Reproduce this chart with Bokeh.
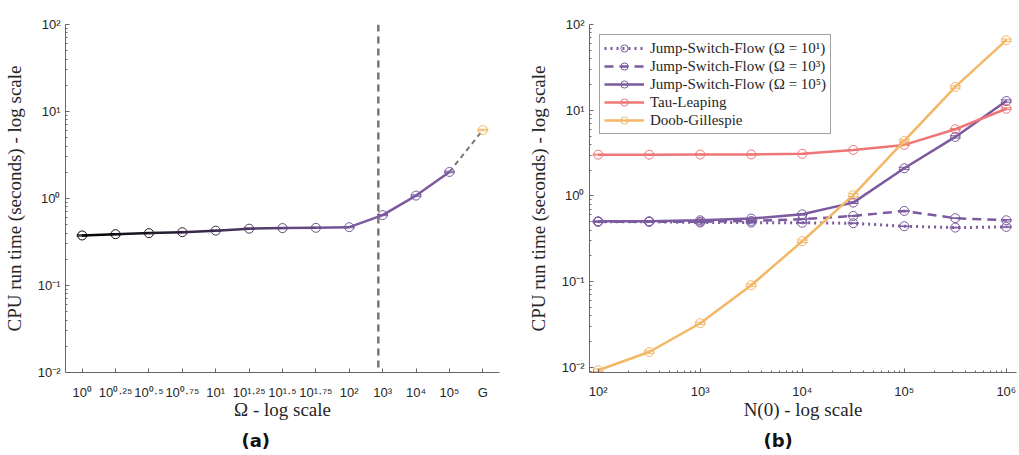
from bokeh.plotting import figure
from bokeh.layouts import row
from bokeh.models import (FixedTicker, Span, Legend, LegendItem, Whisker, ColumnDataSource,
                          Title, Range1d, TeeHead)
from bokeh.embed import file_html
from bokeh.resources import INLINE

# ---------------- data: panel (a) ----------------
omega_pos = [1, 2, 3, 4, 5, 6, 7, 8, 9, 10, 11, 12, 13]
omega_labels = ["10⁰", "10⁰·²⁵", "10⁰·⁵", "10⁰·⁷⁵", "10¹", "10¹·²⁵", "10¹·⁵", "10¹·⁷⁵",
                "10²", "10³", "10⁴", "10⁵", "G"]
jsf_a_time = [0.376, 0.389, 0.400, 0.410, 0.427, 0.450, 0.457, 0.460, 0.468, 0.645, 1.08, 2.02]
jsf_a_err = [0.006, 0.006, 0.006, 0.006, 0.006, 0.007, 0.007, 0.007, 0.007, 0.01, 0.02, 0.04]
gillespie_a_time = [6.12]
gillespie_a_err = [0.12]
threshold_pos = 9.87

# ---------------- data: panel (b) ----------------
n0 = [1e2, 10**2.5, 1e3, 10**3.5, 1e4, 10**4.5, 1e5, 10**5.5, 1e6]
jsf1 = [0.50, 0.50, 0.49, 0.488, 0.486, 0.48, 0.443, 0.427, 0.435]
jsf3 = [0.50, 0.50, 0.50, 0.51, 0.535, 0.584, 0.668, 0.55, 0.52]
jsf5 = [0.506, 0.506, 0.52, 0.544, 0.61, 0.835, 2.1, 4.88, 12.8]
tau = [3.03, 3.03, 3.04, 3.05, 3.10, 3.44, 3.94, 6.0, 10.4]
gill = [0.00925, 0.0151, 0.0327, 0.0907, 0.296, 1.02, 4.38, 18.7, 65.6]
jsf1_err = [0.005, 0.005, 0.005, 0.005, 0.005, 0.005, 0.005, 0.005, 0.008]
jsf3_err = [0.005, 0.005, 0.005, 0.005, 0.005, 0.006, 0.008, 0.006, 0.01]
jsf5_err = [0.005, 0.005, 0.005, 0.006, 0.007, 0.02, 0.06, 0.15, 0.4]
tau_err = [0.03, 0.03, 0.03, 0.03, 0.03, 0.04, 0.05, 0.1, 0.25]
gill_err = [0.0003, 0.0005, 0.001, 0.003, 0.01, 0.04, 0.15, 0.6, 2.0]

series_labels = ["Jump-Switch-Flow (Ω = 10¹)", "Jump-Switch-Flow (Ω = 10³)",
                 "Jump-Switch-Flow (Ω = 10⁵)", "Tau-Leaping", "Doob-Gillespie"]

y_ticks = [1e-2, 1e-1, 1e0, 1e1, 1e2]
y_labels = ["10⁻²", "10⁻¹", "10⁰", "10¹", "10²"]
x_ticks_b = [1e2, 1e3, 1e4, 1e5, 1e6]
x_labels_b = ["10²", "10³", "10⁴", "10⁵", "10⁶"]

# ---------------- style ----------------
PURPLE = (123, 90, 159)
TAU_C = "#EE7676"
GILL_C = "#F4B766"
GRAY = "#777777"
AXIS_C = "#666666"
TEXT_C = "#262626"
SERIF = "Liberation Serif"
SANS = "Liberation Sans"


def hexc(c):
    return "#%02x%02x%02x" % tuple(int(round(v)) for v in c)


def mix(t):
    return hexc(tuple(PURPLE[k] * t for k in range(3)))


def style_axes(p):
    p.outline_line_color = None
    p.grid.grid_line_color = None
    for ax in (p.xaxis[0], p.yaxis[0]):
        ax.axis_line_color = AXIS_C
        ax.major_tick_line_color = AXIS_C
        ax.minor_tick_line_color = AXIS_C
        ax.major_tick_in = 4
        ax.major_tick_out = 0
        ax.minor_tick_in = 2
        ax.minor_tick_out = 0
        ax.major_label_text_font = SANS
        ax.major_label_text_font_size = "13px"
        ax.major_label_text_color = TEXT_C
        ax.axis_label_text_font = SERIF
        ax.axis_label_text_font_size = "19px"
        ax.axis_label_text_font_style = "normal"
        ax.axis_label_text_color = TEXT_C


minor_log = [k * 10.0 ** e for e in range(-3, 3) for k in range(2, 10)]

# ================= panel (a) =================
p1 = figure(width=505, height=455, x_range=Range1d(0.5, 13.5), y_range=Range1d(1e-2, 1e2),
            y_axis_type="log", output_backend="svg", toolbar_location=None,
            min_border_left=62, min_border_right=6, min_border_top=17, min_border_bottom=81)
style_axes(p1)
p1.xaxis.ticker = FixedTicker(ticks=omega_pos)
p1.xaxis.major_label_overrides = {pos: lab for pos, lab in zip(omega_pos, omega_labels)}
p1.xaxis.minor_tick_line_color = None
p1.yaxis.ticker = FixedTicker(ticks=y_ticks, minor_ticks=minor_log)
p1.yaxis.major_label_overrides = {t: l for t, l in zip(y_ticks, y_labels)}
p1.xaxis.axis_label = "Ω - log scale"
p1.yaxis.axis_label = "CPU run time (seconds) - log scale"
p1.xaxis.major_label_standoff = 12
p1.xaxis.axis_label_standoff = -4
p1.yaxis.major_label_standoff = 5
p1.yaxis.axis_label_standoff = 10

p1.add_layout(Span(location=threshold_pos, dimension="height", line_color=GRAY,
                   line_width=2.5, line_dash="7 5"))

n_a = len(jsf_a_time)
pt_t = [min(i / 8.0, 1.0) for i in range(n_a)]
pt_colors = [mix(t) for t in pt_t]
seg_colors = [mix((pt_t[i] + pt_t[i + 1]) / 2) for i in range(n_a - 1)]
p1.segment(x0=omega_pos[:n_a - 1], y0=jsf_a_time[:-1], x1=omega_pos[1:n_a], y1=jsf_a_time[1:],
           line_color=seg_colors, line_width=2.5)
p1.segment(x0=[omega_pos[n_a - 1]], y0=[jsf_a_time[-1]], x1=[omega_pos[n_a]], y1=gillespie_a_time,
           line_color=GRAY, line_width=2, line_dash="5 4")

src_a = ColumnDataSource(dict(x=omega_pos[:n_a], y=jsf_a_time,
                              lo=[v - e for v, e in zip(jsf_a_time, jsf_a_err)],
                              hi=[v + e for v, e in zip(jsf_a_time, jsf_a_err)],
                              c=pt_colors))
p1.add_layout(Whisker(source=src_a, base="x", lower="lo", upper="hi", dimension="height",
                      line_color="c", line_width=1,
                      upper_head=TeeHead(size=11, line_color="c", line_width=1),
                      lower_head=TeeHead(size=11, line_color="c", line_width=1)))
p1.scatter("x", "y", source=src_a, marker="circle", size=9, fill_color=None,
           line_color="c", line_width=1)

src_g = ColumnDataSource(dict(x=[omega_pos[n_a]], y=gillespie_a_time,
                              lo=[v - e for v, e in zip(gillespie_a_time, gillespie_a_err)],
                              hi=[v + e for v, e in zip(gillespie_a_time, gillespie_a_err)]))
p1.add_layout(Whisker(source=src_g, base="x", lower="lo", upper="hi", dimension="height",
                      line_color=GILL_C, line_width=1,
                      upper_head=TeeHead(size=11, line_color=GILL_C, line_width=1),
                      lower_head=TeeHead(size=11, line_color=GILL_C, line_width=1)))
p1.scatter("x", "y", source=src_g, marker="circle", size=9, fill_color=None,
           line_color=GILL_C, line_width=1)

p1.add_layout(Title(text="(a)", align="left", offset=176, text_font="DejaVu Sans",
                    text_font_size="18px", text_font_style="bold", text_color="#111111"), "below")

# ================= panel (b) =================
p2 = figure(width=514, height=455, x_range=Range1d(10**1.915, 10**6.1),
            y_range=Range1d(10**-2.06, 1e2), x_axis_type="log", y_axis_type="log",
            output_backend="svg", toolbar_location=None,
            min_border_left=84, min_border_right=3, min_border_top=24, min_border_bottom=82)
style_axes(p2)
p2.xaxis.ticker = FixedTicker(ticks=x_ticks_b, minor_ticks=[k * 10.0 ** e for e in range(1, 7) for k in range(2, 10)])
p2.xaxis.major_label_overrides = {t: l for t, l in zip(x_ticks_b, x_labels_b)}
p2.yaxis.ticker = FixedTicker(ticks=y_ticks, minor_ticks=minor_log)
p2.yaxis.major_label_overrides = {t: l for t, l in zip(y_ticks, y_labels)}
p2.xaxis.axis_label = "N(0) - log scale"
p2.yaxis.axis_label = "CPU run time (seconds) - log scale"
p2.xaxis.major_label_standoff = 11
p2.xaxis.axis_label_standoff = -3
p2.yaxis.major_label_standoff = 5
p2.yaxis.axis_label_standoff = 10

P_HEX = hexc(PURPLE)
specs = [
    (jsf1, jsf1_err, P_HEX, "2 4", 3.0),
    (jsf3, jsf3_err, P_HEX, "9 6", 2.5),
    (jsf5, jsf5_err, P_HEX, "solid", 2.5),
    (tau, tau_err, TAU_C, "solid", 2.5),
    (gill, gill_err, GILL_C, "solid", 2.5),
]
items = []
for (vals, errs, col, dash, lw), lab in zip(specs, series_labels):
    src = ColumnDataSource(dict(x=n0, y=vals,
                                lo=[v - e for v, e in zip(vals, errs)],
                                hi=[v + e for v, e in zip(vals, errs)]))
    lr = p2.line("x", "y", source=src, line_color=col, line_width=lw, line_dash=dash)
    p2.add_layout(Whisker(source=src, base="x", lower="lo", upper="hi", dimension="height",
                          line_color=col, line_width=1,
                          upper_head=TeeHead(size=11, line_color=col, line_width=1),
                          lower_head=TeeHead(size=11, line_color=col, line_width=1)))
    sr = p2.scatter("x", "y", source=src, marker="circle", size=9, fill_color=None,
                    line_color=col, line_width=1)
    items.append(LegendItem(label=lab, renderers=[lr, sr]))

legend = Legend(items=items, location="top_left", margin=10, padding=4, spacing=0,
                glyph_width=40, glyph_height=18, label_height=18, label_standoff=6,
                label_text_font=SERIF, label_text_font_size="15px", label_text_color=TEXT_C,
                border_line_color="#444444", border_line_width=1,
                background_fill_color="white", background_fill_alpha=1.0)
p2.add_layout(legend)

p2.add_layout(Title(text="(b)", align="left", offset=174, text_font="DejaVu Sans",
                    text_font_size="18px", text_font_style="bold", text_color="#111111"), "below")

layout = row(p1, p2)
open("out.html", "w").write(file_html(layout, INLINE))
